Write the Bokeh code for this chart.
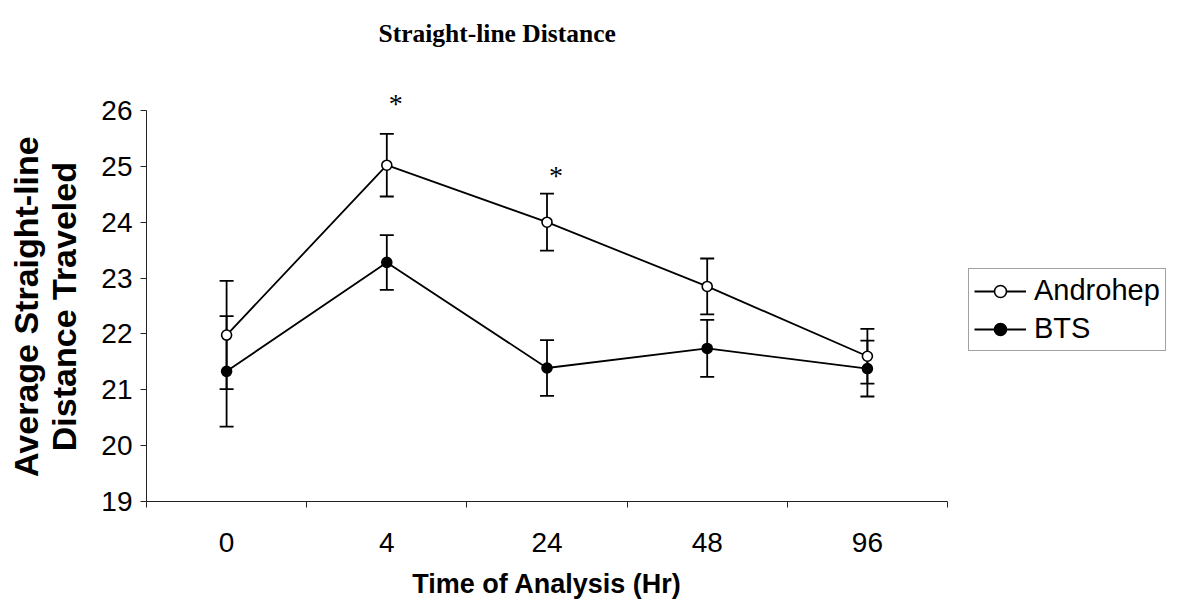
from bokeh.plotting import figure
from bokeh.models import (ColumnDataSource, Whisker, TeeHead, FixedTicker, Legend,
                          LegendItem, Range1d)
from bokeh.core.properties import value
from bokeh.embed import file_html
from bokeh.resources import INLINE

categories = ["0", "4", "24", "48", "96"]
androhep = [21.98, 25.02, 24.00, 22.85, 21.60]
androhep_err = [0.97, 0.56, 0.51, 0.50, 0.49]
bts = [21.33, 23.28, 21.39, 21.74, 21.38]
bts_err = [0.99, 0.49, 0.50, 0.51, 0.50]
y_ticks = [19, 20, 21, 22, 23, 24, 25, 26]
star_cats = ["4", "24"]
star_y = [26.13, 24.84]

xpos = [i + 0.5 for i in range(len(categories))]
bounds = [float(i) for i in range(len(categories) + 1)]

src_a = ColumnDataSource(dict(x=xpos, y=androhep,
                              up=[v + e for v, e in zip(androhep, androhep_err)],
                              lo=[v - e for v, e in zip(androhep, androhep_err)]))
src_b = ColumnDataSource(dict(x=xpos, y=bts,
                              up=[v + e for v, e in zip(bts, bts_err)],
                              lo=[v - e for v, e in zip(bts, bts_err)]))
star_src = ColumnDataSource(dict(x=[xpos[categories.index(c)] for c in star_cats], y=star_y,
                                 t=["*"] * len(star_cats)))

p = figure(frame_width=801, frame_height=437, output_backend="svg", toolbar_location=None,
           x_range=Range1d(0, len(categories)), y_range=Range1d(19, 26.823),
           min_border_left=146, min_border_right=231, min_border_top=64, min_border_bottom=104,
           title="Straight-line Distance")
p.outline_line_color = None
p.grid.visible = False
p.background_fill_color = "white"

p.title.align = "left"
p.title.offset = 232
p.title.standoff = 33
p.title.text_font = "Liberation Serif"
p.title.text_font_style = "bold"
p.title.text_font_size = "25.5px"
p.title.text_color = "black"

for ax in (p.xaxis[0], p.yaxis[0]):
    ax.axis_line_color = "#222222"
    ax.major_tick_line_color = "#222222"
    ax.minor_tick_line_color = "#222222"
    ax.major_label_text_font = "Liberation Sans"
    ax.major_label_text_font_size = "28px"
    ax.major_label_text_color = "black"
    ax.axis_label_text_font = "Liberation Sans"
    ax.axis_label_text_font_style = "bold"
    ax.axis_label_text_color = "black"

p.xaxis.ticker = FixedTicker(ticks=xpos, minor_ticks=bounds)
p.xaxis.major_label_overrides = {x: c for x, c in zip(xpos, categories)}
p.xaxis.major_tick_out = 0
p.xaxis.major_tick_in = 0
p.xaxis.minor_tick_out = 6
p.xaxis.minor_tick_in = 0
p.xaxis.major_label_standoff = 25
p.xaxis.axis_label = "Time of Analysis (Hr)"
p.xaxis.axis_label_text_font_size = "27px"
p.xaxis.axis_label_standoff = 14

p.yaxis.ticker = FixedTicker(ticks=y_ticks, minor_ticks=[])
p.yaxis.bounds = (19, 26)
p.yaxis.major_tick_out = 6
p.yaxis.major_tick_in = 0
p.yaxis.major_label_standoff = 8
# trailing blanks move the centred title down to the middle of the 19-26 axis
p.yaxis.axis_label = "Average Straight-line     \nDistance Traveled     "
p.yaxis.axis_label_text_font_size = "34px"
p.yaxis.axis_label_text_line_height = 1.0
p.yaxis.axis_label_standoff = 15

for src in (src_a, src_b):
    w = Whisker(source=src, base="x", upper="up", lower="lo", line_color="black", line_width=1.8,
                upper_head=TeeHead(size=14, line_color="black", line_width=1.8),
                lower_head=TeeHead(size=14, line_color="black", line_width=1.8),
                level="underlay")
    p.add_layout(w)

la = p.line("x", "y", source=src_a, line_color="black", line_width=1.8)
sa = p.scatter("x", "y", source=src_a, size=10, fill_color="white", line_color="black", line_width=1.6)
lb = p.line("x", "y", source=src_b, line_color="black", line_width=1.8)
sb = p.scatter("x", "y", source=src_b, size=10, fill_color="black", line_color="black", line_width=1.6)

p.text("x", "y", text="t", source=star_src, x_offset=9, text_align="center",
       text_baseline="middle", text_font=value("Liberation Serif"), text_font_size="28px",
       text_color="black")

legend = Legend(items=[LegendItem(label="Androhep", renderers=[la, sa]),
                       LegendItem(label="BTS", renderers=[lb, sb])],
                location=(21, 150))
legend.border_line_color = "#444444"
legend.border_line_width = 1
legend.background_fill_alpha = 1
legend.label_text_font = "Liberation Sans"
legend.label_text_font_size = "29px"
legend.label_text_color = "black"
legend.glyph_width = 52
legend.glyph_height = 30
legend.label_height = 30
legend.label_standoff = 8
legend.spacing = 5
legend.padding = 5
legend.margin = 0
p.add_layout(legend, "right")

open("out.html", "w").write(file_html(p, INLINE))
